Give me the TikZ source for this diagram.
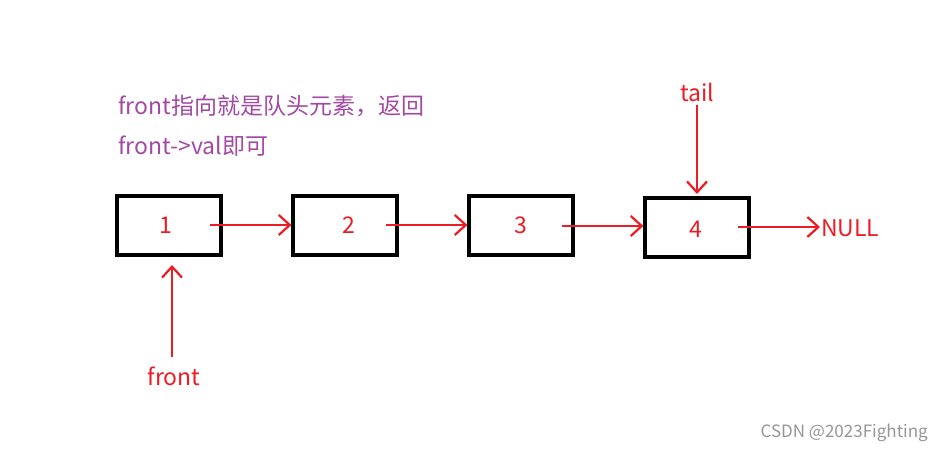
\documentclass[tikz,border=0pt]{standalone}
\usepackage{fontspec}
\setmainfont{Noto Sans CJK SC}
\usetikzlibrary{arrows.meta}
\definecolor{pred}{RGB}{237,28,36}
\definecolor{ppurple}{RGB}{163,73,164}
\definecolor{pgray}{RGB}{150,150,150}
\begin{document}
\begin{tikzpicture}[x=1pt,y=-1pt,
  box/.style={draw=black,line width=3.2pt,minimum width=104pt,minimum height=59pt,inner sep=0pt},
  lbl/.style={text=pred,font=\fontsize{23}{26}\selectfont,inner sep=0pt},
  arr/.style={draw=pred,line width=2.8pt,-{Straight Barb[length=11pt,width=20pt,line width=2.2pt]}},
  note/.style={text=ppurple,font=\fontsize{23}{26}\selectfont,inner sep=0pt,anchor=west}]
\useasboundingbox (0,0) rectangle (942,452);
\node[box] (b1) at (169,225.5) {};
\node[box] (b2) at (345,225.5) {};
\node[box] (b3) at (521,225.5) {};
\node[box] (b4) at (697,227.5) {};
\node[lbl] (t1) at (166,225) {1};
\node[lbl] (t2) at (349,225) {2};
\node[lbl] (t3) at (521,225) {3};
\node[lbl] (t4) at (696,229) {4};
\coordinate (s1) at (210,225);
\coordinate (s2) at (386,225);
\coordinate (s3) at (562,226);
\coordinate (s4) at (738,227);
\draw[arr] (s1) -- (b2.west |- s1);
\draw[arr] (s2) -- (b3.west |- s2);
\draw[arr] (s3) -- (b4.west |- s3);
\node[lbl,anchor=west] (null) at (821,228) {NULL};
\coordinate (ne) at (820,227);
\draw[arr] (s4) -- (ne);
\node[lbl] (tail) at (697,92) {tail};
\coordinate (ts) at (697,105);
\coordinate (tt) at (697,194);
\draw[arr] (ts) -- (tt);
\node[lbl] (front) at (174,376) {front};
\coordinate (fs) at (172,357);
\coordinate (ft) at (172,265);
\draw[arr] (fs) -- (ft);
\node[note] (n1) at (118,106) {front指向就是队头元素，返回};
\node[note] (n2) at (118,146) {front->val即可};
\node[text=pgray,font=\fontsize{17}{19}\selectfont,anchor=east,inner sep=0pt] (wm) at (928,433) {CSDN @2023Fighting};
\end{tikzpicture}
\end{document}
